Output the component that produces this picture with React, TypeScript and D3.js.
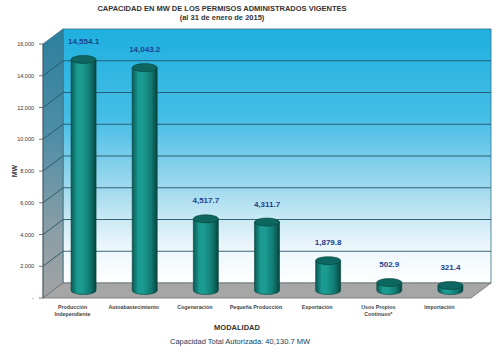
import { useEffect, useRef } from "react";
import * as d3 from "d3";

const categories = [
  "Producción\nIndependiente",
  "Autoabastecimiento",
  "Cogeneración",
  "Pequeña Producción",
  "Exportación",
  "Usos Propios\nContinuos*",
  "Importación",
];
const values = [14554.1, 14043.2, 4517.7, 4311.7, 1879.8, 502.9, 321.4];
const yTicks = [0, 2000, 4000, 6000, 8000, 10000, 12000, 14000, 16000];

const WIDTH = 500;
const HEIGHT = 353;
const FRONT = { left: 43, right: 471, top: 44, bottom: 298 };
const DEPTH = { dx: 20, dy: -15 };
const FONT = "'Liberation Sans', Arial, sans-serif";

function fmt(v: number): string {
  return d3.format(",.1f")(v);
}

export default function App() {
  const svgRef = useRef<SVGSVGElement>(null);

  useEffect(() => {
    const svg = d3.select(svgRef.current);
    svg.selectAll("*").remove();
    svg.attr("width", WIDTH).attr("height", HEIGHT);

    svg.append("rect").attr("width", WIDTH).attr("height", HEIGHT).attr("fill", "#ffffff");

    const defs = svg.append("defs");

    const wallGrad = defs.append("linearGradient")
      .attr("id", "wall").attr("x1", 0).attr("y1", 0).attr("x2", 0).attr("y2", 1);
    [["0%", "#1eb0df"], ["35%", "#45bde6"], ["65%", "#a8dcef"], ["85%", "#eaf6fb"], ["100%", "#ffffff"]]
      .forEach(([o, c]) => wallGrad.append("stop").attr("offset", o).attr("stop-color", c));

    const sideGrad = defs.append("linearGradient")
      .attr("id", "side").attr("x1", 0).attr("y1", 0).attr("x2", 0).attr("y2", 1);
    [["0%", "#2b7f9e"], ["40%", "#4f8ea6"], ["75%", "#8a9ea6"], ["100%", "#a3a3a3"]]
      .forEach(([o, c]) => sideGrad.append("stop").attr("offset", o).attr("stop-color", c));

    const cylGrad = defs.append("linearGradient")
      .attr("id", "cyl").attr("x1", 0).attr("y1", 0).attr("x2", 1).attr("y2", 0);
    [["0%", "#0a5a54"], ["25%", "#1a9c92"], ["45%", "#1b9a90"], ["75%", "#117a72"], ["100%", "#06463f"]]
      .forEach(([o, c]) => cylGrad.append("stop").attr("offset", o).attr("stop-color", c));

    const x = d3.scaleBand<string>()
      .domain(categories)
      .range([FRONT.left, FRONT.right]);
    const y = d3.scaleLinear()
      .domain([0, 16000])
      .range([FRONT.bottom, FRONT.top]);
    const yBack = (v: number) => y(v) + DEPTH.dy;
    const yMid = (v: number) => y(v) + DEPTH.dy / 2;

    const backL = FRONT.left + DEPTH.dx;
    const backR = FRONT.right + DEPTH.dx;

    // Back wall
    svg.append("rect")
      .attr("x", backL).attr("y", yBack(16000))
      .attr("width", backR - backL).attr("height", yBack(0) - yBack(16000))
      .attr("fill", "url(#wall)")
      .attr("stroke", "#3a6f82").attr("stroke-width", 0.8);

    // Left wall
    svg.append("polygon")
      .attr("points", [
        [FRONT.left, y(16000)], [backL, yBack(16000)], [backL, yBack(0)], [FRONT.left, y(0)],
      ].map((p) => p.join(",")).join(" "))
      .attr("fill", "url(#side)")
      .attr("stroke", "#3a6f82").attr("stroke-width", 0.8);

    // Floor
    svg.append("polygon")
      .attr("points", [
        [FRONT.left, y(0)], [backL, yBack(0)], [backR, yBack(0)], [FRONT.right, y(0)],
      ].map((p) => p.join(",")).join(" "))
      .attr("fill", "#a6a6a6")
      .attr("stroke", "#6e6e6e").attr("stroke-width", 0.8);

    // Gridlines
    yTicks.slice(1, -1).forEach((t) => {
      svg.append("line")
        .attr("x1", backL).attr("x2", backR)
        .attr("y1", yBack(t)).attr("y2", yBack(t))
        .attr("stroke", "#24566a").attr("stroke-width", 0.9);
      svg.append("line")
        .attr("x1", FRONT.left).attr("x2", backL)
        .attr("y1", y(t)).attr("y2", yBack(t))
        .attr("stroke", "#24566a").attr("stroke-width", 0.9);
    });

    // Y axis ticks and labels
    svg.append("line")
      .attr("x1", FRONT.left).attr("x2", FRONT.left)
      .attr("y1", y(16000)).attr("y2", y(0))
      .attr("stroke", "#555").attr("stroke-width", 0.8);
    yTicks.forEach((t) => {
      svg.append("line")
        .attr("x1", FRONT.left - 4).attr("x2", FRONT.left)
        .attr("y1", y(t)).attr("y2", y(t))
        .attr("stroke", "#555").attr("stroke-width", 0.8);
      svg.append("text")
        .attr("x", FRONT.left - 9)
        .attr("y", y(t))
        .attr("text-anchor", "end")
        .attr("dominant-baseline", "central")
        .attr("font-size", "5.5px")
        .attr("fill", "#333")
        .attr("font-family", FONT)
        .text(t === 0 ? "-" : d3.format(",")(t));
    });

    // Cylinders
    const cw = 25;
    const ry = 4;
    categories.forEach((c, i) => {
      const v = values[i];
      const cx = (x(c) ?? 0) + x.bandwidth() / 2 + DEPTH.dx / 2;
      const yb = yMid(0);
      const yt = yMid(v);
      const g = svg.append("g");
      g.append("path")
        .attr("d", `M${cx - cw / 2},${yt} L${cx - cw / 2},${yb} A${cw / 2},${ry} 0 0 0 ${cx + cw / 2},${yb} L${cx + cw / 2},${yt} Z`)
        .attr("fill", "url(#cyl)")
        .attr("stroke", "#05413b").attr("stroke-width", 0.6);
      g.append("ellipse")
        .attr("cx", cx).attr("cy", yt)
        .attr("rx", cw / 2).attr("ry", ry)
        .attr("fill", "#0e6660")
        .attr("stroke", "#05413b").attr("stroke-width", 0.6);

      svg.append("text")
        .attr("x", cx)
        .attr("y", yBack(v) - 8)
        .attr("text-anchor", "middle")
        .attr("font-size", "8px")
        .attr("font-weight", "bold")
        .attr("fill", "#1c3f8f")
        .attr("font-family", FONT)
        .text(fmt(v));

      // Category label
      const lines = c.split("\n");
      const lx = (x(c) ?? 0) + x.bandwidth() / 2 - 1;
      lines.forEach((ln, j) => {
        svg.append("text")
          .attr("x", lx)
          .attr("y", 309 + j * 6.5)
          .attr("text-anchor", "middle")
          .attr("font-size", "5.3px")
          .attr("font-weight", "bold")
          .attr("fill", "#444")
          .attr("font-family", FONT)
          .text(ln);
      });
    });

    // Titles
    svg.append("text")
      .attr("x", 222).attr("y", 11)
      .attr("text-anchor", "middle")
      .attr("font-size", "7.5px").attr("font-weight", "bold")
      .attr("fill", "#333").attr("font-family", FONT)
      .text("CAPACIDAD EN MW DE LOS PERMISOS ADMINISTRADOS VIGENTES");
    svg.append("text")
      .attr("x", 222).attr("y", 20)
      .attr("text-anchor", "middle")
      .attr("font-size", "7.5px").attr("font-weight", "bold")
      .attr("fill", "#333").attr("font-family", FONT)
      .text("(al 31 de enero de 2015)");

    // Axis titles
    svg.append("text")
      .attr("transform", `translate(14,${(y(0) + y(16000)) / 2}) rotate(-90)`)
      .attr("text-anchor", "middle")
      .attr("dominant-baseline", "central")
      .attr("font-size", "7px").attr("font-weight", "bold")
      .attr("fill", "#333").attr("font-family", FONT)
      .text("MW");
    svg.append("text")
      .attr("x", 237).attr("y", 330)
      .attr("text-anchor", "middle")
      .attr("font-size", "7.5px").attr("font-weight", "bold")
      .attr("fill", "#333").attr("font-family", FONT)
      .text("MODALIDAD");
    svg.append("text")
      .attr("x", 240).attr("y", 344)
      .attr("text-anchor", "middle")
      .attr("font-size", "7.5px")
      .attr("fill", "#223a5a").attr("font-family", FONT)
      .text("Capacidad Total Autorizada: 40,130.7 MW");
  }, []);

  return <svg ref={svgRef} style={{ position: "absolute", left: 0, top: 0 }} />;
}
